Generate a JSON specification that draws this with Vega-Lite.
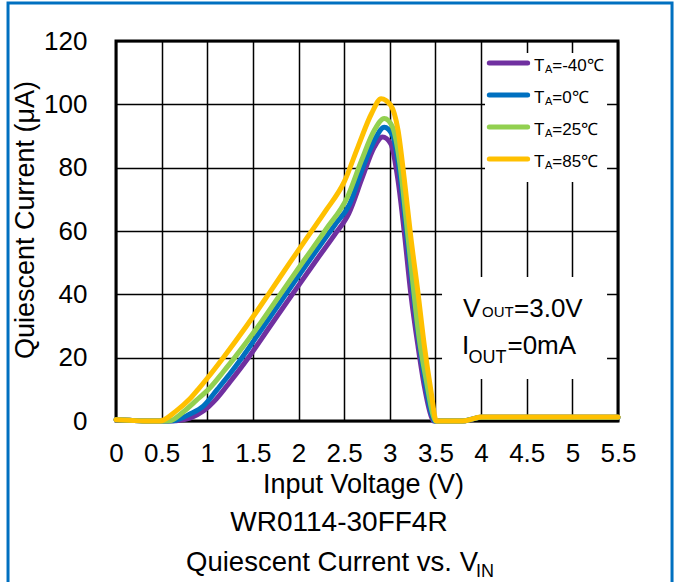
{
  "$schema": "https://vega.github.io/schema/vega-lite/v6.json",
  "width": 502,
  "height": 380,
  "autosize": {"type": "none"},
  "padding": {"left": 116, "top": 41, "right": 60, "bottom": 161},
  "background": "white",
  "config": {
    "font": "Liberation Sans",
    "view": {"stroke": "#000", "strokeWidth": 3},
    "axis": {"labelColor": "#000", "titleColor": "#000", "titleFontWeight": "normal", "gridColor": "#000", "gridWidth": 1.5, "gridOpacity": 1, "ticks": false, "tickSize": 0, "domain": false, "labelFlush": false, "labelOverlap": false, "labelFont": "Liberation Sans", "titleFont": "Liberation Sans"}
  },
  "datasets": {
    "curves": [
      {"t": "-40", "v": 0, "i": 0.4}, {"t": "-40", "v": 0.15, "i": 0.2}, {"t": "-40", "v": 0.3, "i": 0}, {"t": "-40", "v": 0.5, "i": 0}, {"t": "-40", "v": 0.66, "i": 0.1}, {"t": "-40", "v": 0.81, "i": 0.9}, {"t": "-40", "v": 0.96, "i": 3.2}, {"t": "-40", "v": 1.1, "i": 7}, {"t": "-40", "v": 1.25, "i": 12.4}, {"t": "-40", "v": 1.45, "i": 20}, {"t": "-40", "v": 1.69, "i": 30}, {"t": "-40", "v": 1.92, "i": 39.5}, {"t": "-40", "v": 2.2, "i": 51}, {"t": "-40", "v": 2.4, "i": 59}, {"t": "-40", "v": 2.55, "i": 65.5}, {"t": "-40", "v": 2.7, "i": 77}, {"t": "-40", "v": 2.83, "i": 86.5}, {"t": "-40", "v": 2.92, "i": 89.7}, {"t": "-40", "v": 3.01, "i": 87.6}, {"t": "-40", "v": 3.09, "i": 76}, {"t": "-40", "v": 3.16, "i": 59.2}, {"t": "-40", "v": 3.23, "i": 40.2}, {"t": "-40", "v": 3.31, "i": 23.4}, {"t": "-40", "v": 3.38, "i": 10.7}, {"t": "-40", "v": 3.45, "i": 1.8}, {"t": "-40", "v": 3.48, "i": 0}, {"t": "-40", "v": 3.8, "i": 0}, {"t": "-40", "v": 3.9, "i": 0.6}, {"t": "-40", "v": 4, "i": 1.2}, {"t": "-40", "v": 5.5, "i": 1.2},
      {"t": "0", "v": 0, "i": 0.4}, {"t": "0", "v": 0.15, "i": 0.2}, {"t": "0", "v": 0.3, "i": 0}, {"t": "0", "v": 0.5, "i": 0}, {"t": "0", "v": 0.63, "i": 0.1}, {"t": "0", "v": 0.81, "i": 2.2}, {"t": "0", "v": 0.96, "i": 4.8}, {"t": "0", "v": 1.11, "i": 10}, {"t": "0", "v": 1.25, "i": 15}, {"t": "0", "v": 1.38, "i": 20}, {"t": "0", "v": 1.62, "i": 30}, {"t": "0", "v": 1.86, "i": 40}, {"t": "0", "v": 2.2, "i": 54}, {"t": "0", "v": 2.4, "i": 62}, {"t": "0", "v": 2.56, "i": 68.5}, {"t": "0", "v": 2.7, "i": 79.7}, {"t": "0", "v": 2.83, "i": 88.6}, {"t": "0", "v": 2.94, "i": 92.8}, {"t": "0", "v": 3.03, "i": 90.2}, {"t": "0", "v": 3.11, "i": 78.1}, {"t": "0", "v": 3.18, "i": 60.2}, {"t": "0", "v": 3.25, "i": 42}, {"t": "0", "v": 3.32, "i": 25}, {"t": "0", "v": 3.39, "i": 12}, {"t": "0", "v": 3.46, "i": 2}, {"t": "0", "v": 3.49, "i": 0}, {"t": "0", "v": 3.8, "i": 0}, {"t": "0", "v": 3.9, "i": 0.6}, {"t": "0", "v": 4, "i": 1.2}, {"t": "0", "v": 5.5, "i": 1.2},
      {"t": "25", "v": 0, "i": 0.4}, {"t": "25", "v": 0.15, "i": 0.2}, {"t": "25", "v": 0.3, "i": 0}, {"t": "25", "v": 0.5, "i": 0}, {"t": "25", "v": 0.59, "i": 0.1}, {"t": "25", "v": 0.73, "i": 2.7}, {"t": "25", "v": 0.88, "i": 6.5}, {"t": "25", "v": 1.03, "i": 10.5}, {"t": "25", "v": 1.18, "i": 15.7}, {"t": "25", "v": 1.3, "i": 20}, {"t": "25", "v": 1.56, "i": 30}, {"t": "25", "v": 1.8, "i": 40}, {"t": "25", "v": 2.03, "i": 49.5}, {"t": "25", "v": 2.3, "i": 60.5}, {"t": "25", "v": 2.54, "i": 71}, {"t": "25", "v": 2.69, "i": 82.3}, {"t": "25", "v": 2.83, "i": 91.8}, {"t": "25", "v": 2.94, "i": 95.5}, {"t": "25", "v": 3.03, "i": 92.8}, {"t": "25", "v": 3.11, "i": 81.3}, {"t": "25", "v": 3.18, "i": 63.4}, {"t": "25", "v": 3.25, "i": 44.4}, {"t": "25", "v": 3.32, "i": 26.5}, {"t": "25", "v": 3.4, "i": 12.8}, {"t": "25", "v": 3.47, "i": 2.3}, {"t": "25", "v": 3.5, "i": 0}, {"t": "25", "v": 3.8, "i": 0}, {"t": "25", "v": 3.9, "i": 0.6}, {"t": "25", "v": 4, "i": 1.2}, {"t": "25", "v": 5.5, "i": 1.2},
      {"t": "85", "v": 0, "i": 0.4}, {"t": "85", "v": 0.15, "i": 0.2}, {"t": "85", "v": 0.3, "i": 0}, {"t": "85", "v": 0.48, "i": 0}, {"t": "85", "v": 0.66, "i": 3.2}, {"t": "85", "v": 0.81, "i": 7}, {"t": "85", "v": 0.9, "i": 10}, {"t": "85", "v": 1, "i": 13.5}, {"t": "85", "v": 1.175, "i": 20}, {"t": "85", "v": 1.43, "i": 30}, {"t": "85", "v": 1.67, "i": 40}, {"t": "85", "v": 1.905, "i": 50}, {"t": "85", "v": 2.12, "i": 59}, {"t": "85", "v": 2.3, "i": 66.5}, {"t": "85", "v": 2.5, "i": 75.5}, {"t": "85", "v": 2.65, "i": 86.5}, {"t": "85", "v": 2.8, "i": 97.1}, {"t": "85", "v": 2.905, "i": 101.8}, {"t": "85", "v": 3.01, "i": 99.7}, {"t": "85", "v": 3.09, "i": 91.8}, {"t": "85", "v": 3.16, "i": 76}, {"t": "85", "v": 3.23, "i": 58.1}, {"t": "85", "v": 3.31, "i": 40.2}, {"t": "85", "v": 3.38, "i": 23.4}, {"t": "85", "v": 3.45, "i": 9.7}, {"t": "85", "v": 3.51, "i": 0}, {"t": "85", "v": 3.8, "i": 0}, {"t": "85", "v": 3.9, "i": 0.6}, {"t": "85", "v": 4, "i": 1.3}, {"t": "85", "v": 5.5, "i": 1.3}
    ],
    "legend": [
      {"t": "-40", "lab": "=-40℃"},
      {"t": "0", "lab": "=0℃"},
      {"t": "25", "lab": "=25℃"},
      {"t": "85", "lab": "=85℃"}
    ]
  },
  "layer": [
    {
      "layer": [
        {
          "data": {"values": [{}]},
          "mark": {"type": "rect", "filled": false, "stroke": "#0070C0", "strokeWidth": 3},
          "encoding": {"x": {"datum": -1.183}, "x2": {"datum": 6.092}, "y": {"datum": 132}, "y2": {"datum": -60}}
        },
        {
          "data": {"values": [{}]},
          "mark": {"type": "rect", "fill": "white"},
          "encoding": {"x": {"datum": 4.043}, "x2": {"datum": 5.38}, "y": {"datum": 116.2}, "y2": {"datum": 75.5}}
        },
        {
          "data": {"values": [{}]},
          "mark": {"type": "rect", "fill": "white"},
          "encoding": {"x": {"datum": 3.572}, "x2": {"datum": 5.38}, "y": {"datum": 45.5}, "y2": {"datum": 13.3}}
        },
        {
          "data": {"name": "curves"},
          "mark": {"type": "line", "strokeWidth": 5, "interpolate": "monotone", "strokeCap": "round", "strokeJoin": "round"},
          "encoding": {
            "x": {
              "field": "v", "type": "quantitative",
              "scale": {"domain": [0, 5.5], "nice": false, "zero": false},
              "axis": {"values": [0, 0.5, 1, 1.5, 2, 2.5, 3, 3.5, 4, 4.5, 5, 5.5], "format": "~g", "grid": true, "labelFontSize": 26, "labelPadding": 19, "title": "Input Voltage (V)", "titleFontSize": 27, "titleX": 247, "titleY": 71, "titleAlign": "center", "titleBaseline": "alphabetic"}
            },
            "y": {
              "field": "i", "type": "quantitative",
              "scale": {"domain": [0, 120], "nice": false, "zero": false},
              "axis": {"values": [0, 10, 20, 30, 40, 50, 60, 70, 80, 90, 100, 110, 120], "labelExpr": "datum.value % 20 === 0 ? datum.label : ''", "grid": true, "labelFontSize": 26, "labelPadding": 29, "labelBaseline": "middle", "title": "Quiescent Current (μA)", "titleFontSize": 27, "titleAngle": 270, "titleX": -83, "titleY": 178.5, "titleAlign": "center", "titleBaseline": "alphabetic"}
            },
            "color": {"field": "t", "type": "nominal", "scale": {"domain": ["-40", "0", "25", "85"], "range": ["#7030A0", "#0070C0", "#92D050", "#FFC000"]}, "legend": null}
          }
        },
        {
          "data": {"values": [{}]},
          "mark": {"type": "text", "text": "V", "fontSize": 26, "align": "left", "baseline": "alphabetic"},
          "encoding": {"x": {"datum": 3.802}, "y": {"datum": 32.8}}
        },
        {
          "data": {"values": [{}]},
          "mark": {"type": "text", "text": "OUT", "fontSize": 15, "align": "left", "baseline": "alphabetic"},
          "encoding": {"x": {"datum": 4.01}, "y": {"datum": 32.8}}
        },
        {
          "data": {"values": [{}]},
          "mark": {"type": "text", "text": "=3.0V", "fontSize": 26, "align": "left", "baseline": "alphabetic"},
          "encoding": {"x": {"datum": 4.361}, "y": {"datum": 32.8}}
        },
        {
          "data": {"values": [{}]},
          "mark": {"type": "text", "text": "I", "fontSize": 26, "align": "left", "baseline": "alphabetic"},
          "encoding": {"x": {"datum": 3.79}, "y": {"datum": 21.2}}
        },
        {
          "data": {"values": [{}]},
          "mark": {"type": "text", "text": "OUT", "fontSize": 18, "align": "left", "baseline": "alphabetic"},
          "encoding": {"x": {"datum": 3.862}, "y": {"datum": 18.3}}
        },
        {
          "data": {"values": [{}]},
          "mark": {"type": "text", "text": "=0mA", "fontSize": 26, "align": "left", "baseline": "alphabetic"},
          "encoding": {"x": {"datum": 4.289}, "y": {"datum": 21.2}}
        },
        {
          "data": {"values": [{}]},
          "mark": {"type": "text", "text": "WR0114-30FF4R", "fontSize": 28, "align": "center", "baseline": "alphabetic"},
          "encoding": {"x": {"datum": 2.443}, "y": {"datum": -34.7}}
        },
        {
          "data": {"values": [{}]},
          "mark": {"type": "text", "text": "Quiescent Current vs. V", "fontSize": 27.5, "align": "right", "baseline": "alphabetic"},
          "encoding": {"x": {"datum": 3.966}, "y": {"datum": -47.4}}
        },
        {
          "data": {"values": [{}]},
          "mark": {"type": "text", "text": "IN", "fontSize": 18, "align": "left", "baseline": "alphabetic"},
          "encoding": {"x": {"datum": 3.944}, "y": {"datum": -49.3}}
        }
      ]
    },
    {
      "data": {"name": "legend"},
      "encoding": {
        "y": {"field": "t", "type": "ordinal", "scale": {"type": "point", "domain": ["-40", "0", "25", "85"], "range": [22, 118], "padding": 0}, "axis": null}
      },
      "layer": [
        {
          "mark": {"type": "rule", "strokeWidth": 5, "strokeCap": "round"},
          "encoding": {"x": {"datum": 4.09}, "x2": {"datum": 4.51}, "color": {"field": "t", "type": "nominal", "legend": null}}
        },
        {
          "mark": {"type": "text", "text": "T", "fontSize": 17, "align": "left", "baseline": "middle", "dy": 3},
          "encoding": {"x": {"datum": 4.58}}
        },
        {
          "mark": {"type": "text", "text": "A", "fontSize": 11, "align": "left", "baseline": "middle", "dy": 7},
          "encoding": {"x": {"datum": 4.7}}
        },
        {
          "mark": {"type": "text", "fontSize": 17, "align": "left", "baseline": "middle", "dy": 3},
          "encoding": {"x": {"datum": 4.78}, "text": {"field": "lab"}}
        }
      ]
    }
  ],
  "resolve": {"scale": {"y": "independent"}}
}
